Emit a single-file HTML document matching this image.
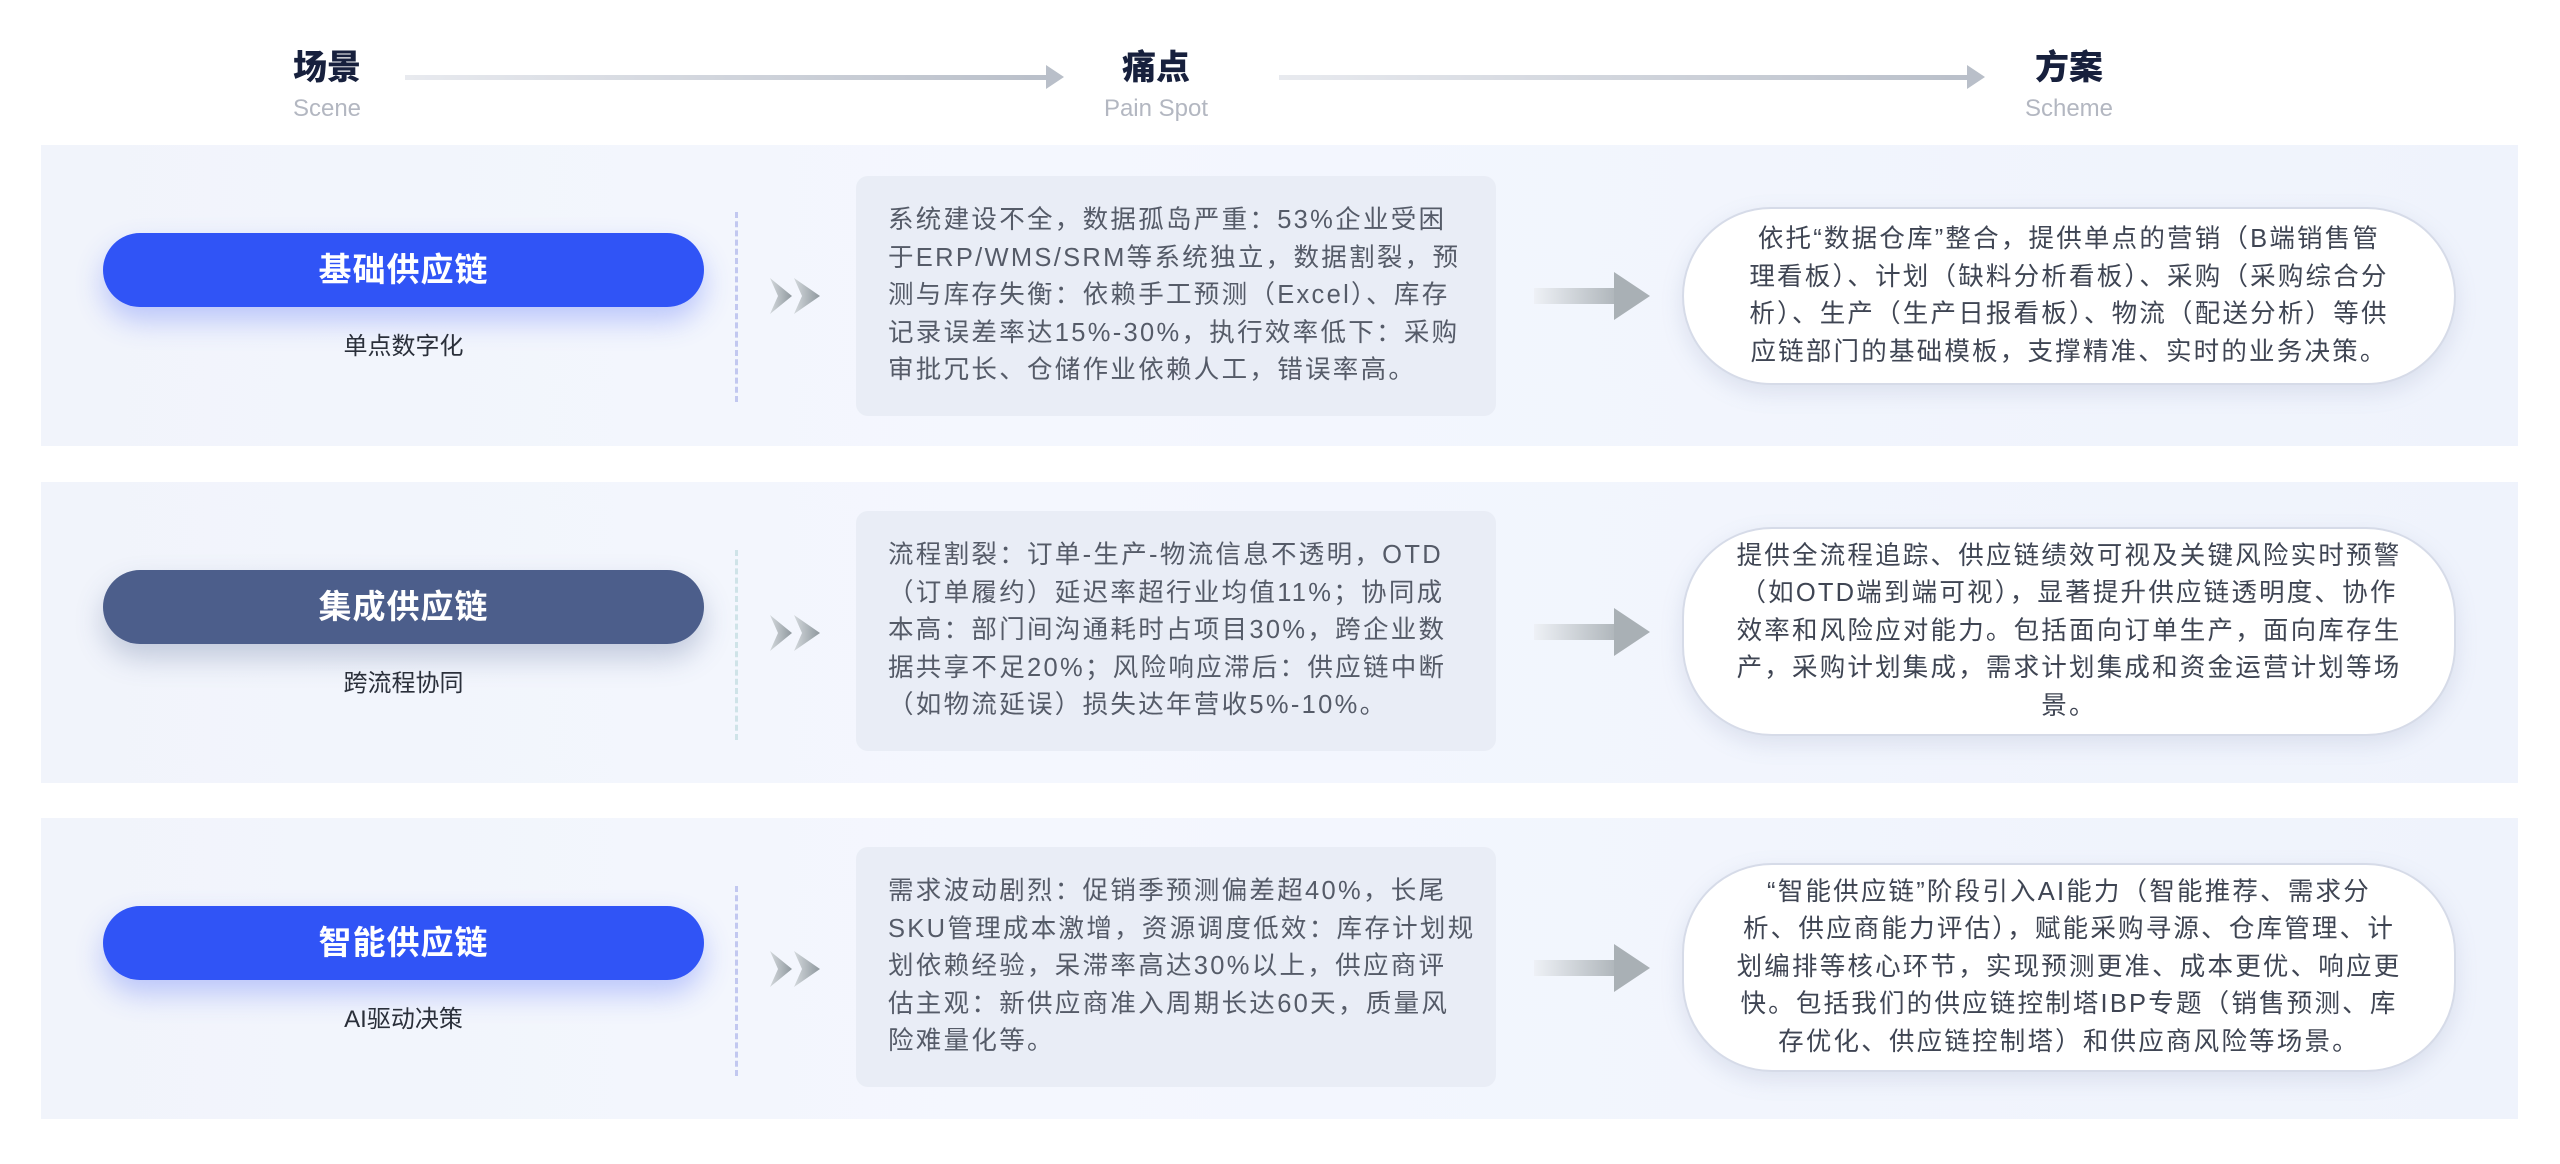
<!DOCTYPE html>
<html><head><meta charset="utf-8"><style>
*{margin:0;padding:0;box-sizing:border-box}
body{width:2560px;height:1164px;background:#fff;position:relative;overflow:hidden;font-family:"Liberation Sans","Noto Sans CJK SC",sans-serif}
.h{position:absolute;text-align:center;width:200px}
.h b{display:block;font-size:34px;font-weight:900;color:#17203d;line-height:40px}
.h span{display:block;font-size:24px;color:#b3b7c1;line-height:34px;margin-top:4px}
.harrow{position:absolute;height:5px;background:linear-gradient(90deg,#e8eaef,#b9bfc9)}
.harrow:after{content:"";position:absolute;right:-16px;top:-10px;border-left:18px solid #b9bfc9;border-top:12px solid transparent;border-bottom:12px solid transparent}
.band{position:absolute;left:41px;width:2477px;height:301px;background:linear-gradient(90deg,#f1f4fb,#f4f7fe 40%,#eff3fc)}
.pill{position:absolute;left:103px;width:601px;height:74px;border-radius:37px;color:#fff;font-size:33px;font-weight:700;text-align:center;line-height:74px;letter-spacing:1px}
.blue{background:#3054f6;box-shadow:0 14px 28px rgba(60,90,250,.3)}
.slate{background:#4c5e8b;box-shadow:0 14px 28px rgba(70,90,140,.28)}
.sub{position:absolute;left:103px;width:601px;text-align:center;font-size:24px;color:#2a2f3a}
.dash{position:absolute;left:735px;width:0;height:190px;border-left:3px dashed #c2c8f0}
.chev{position:absolute;left:770px;width:56px;height:40px}
.pain{position:absolute;left:856px;width:640px;height:240px;background:#e9edf6;border-radius:12px;padding:0 0 0 32px;display:flex;align-items:center;font-size:25.5px;line-height:37.5px;color:#555b68;letter-spacing:2.3px;white-space:nowrap}
.arr{position:absolute;left:1534px;width:116px;height:48px}
.sol{position:absolute;left:1682px;width:774px;background:#fff;border:2px solid #d6dbe8;border-radius:90px;box-shadow:0 8px 22px rgba(120,135,170,.18);display:flex;align-items:center;justify-content:center;text-align:center;font-size:25.5px;line-height:37.5px;color:#3f4553;letter-spacing:2.2px;white-space:nowrap}
</style></head><body>
<div class="h" style="left:227px;top:48px"><b>场景</b><span>Scene</span></div>
<div class="h" style="left:1056px;top:48px"><b>痛点</b><span>Pain Spot</span></div>
<div class="h" style="left:1969px;top:48px"><b>方案</b><span>Scheme</span></div>
<div class="harrow" style="left:405px;top:75px;width:643px"></div>
<div class="harrow" style="left:1279px;top:75px;width:690px"></div>

<svg width="0" height="0" style="position:absolute"><defs>
<linearGradient id="g1" x1="0" x2="1"><stop offset="0" stop-color="#eef1f6"/><stop offset="1" stop-color="#a9b0b5"/></linearGradient>
<linearGradient id="g2" x1="0" x2="1"><stop offset="0" stop-color="#d3d8dc"/><stop offset="1" stop-color="#8f989e"/></linearGradient>
</defs></svg>

<div class="band" style="top:145px"></div>
<div class="pill blue" style="top:233px">基础供应链</div>
<div class="sub" style="top:326px">单点数字化</div>
<div class="dash" style="top:212px"></div>
<svg class="chev" style="top:276px" viewBox="0 0 56 40"><polygon points="0,2 22,20 0,38 8,20" fill="url(#g2)"/><polygon points="24,2 50,20 24,38 32,20" fill="url(#g2)"/></svg>
<div class="pain" style="top:176px">系统建设不全，数据孤岛严重：53%企业受困<br>于ERP/WMS/SRM等系统独立，数据割裂，预<br>测与库存失衡：依赖手工预测（Excel）、库存<br>记录误差率达15%-30%，执行效率低下：采购<br>审批冗长、仓储作业依赖人工，错误率高。</div>
<svg class="arr" style="top:272px" viewBox="0 0 116 48"><rect x="0" y="16" width="90" height="16" fill="url(#g1)"/><polygon points="80,0 116,24 80,48" fill="#a9b0b5"/></svg>
<div class="sol" style="top:207px;height:178px">依托“数据仓库”整合，提供单点的营销（B端销售管<br>理看板）、计划（缺料分析看板）、采购（采购综合分<br>析）、生产（生产日报看板）、物流（配送分析）等供<br>应链部门的基础模板，支撑精准、实时的业务决策。</div>

<div class="band" style="top:482px"></div>
<div class="pill slate" style="top:570px">集成供应链</div>
<div class="sub" style="top:663px">跨流程协同</div>
<div class="dash" style="top:550px;border-left-color:#cfe3e8"></div>
<svg class="chev" style="top:613px" viewBox="0 0 56 40"><polygon points="0,2 22,20 0,38 8,20" fill="url(#g2)"/><polygon points="24,2 50,20 24,38 32,20" fill="url(#g2)"/></svg>
<div class="pain" style="top:511px">流程割裂：订单-生产-物流信息不透明，OTD<br>（订单履约）延迟率超行业均值11%；协同成<br>本高：部门间沟通耗时占项目30%，跨企业数<br>据共享不足20%；风险响应滞后：供应链中断<br>（如物流延误）损失达年营收5%-10%。</div>
<svg class="arr" style="top:608px" viewBox="0 0 116 48"><rect x="0" y="16" width="90" height="16" fill="url(#g1)"/><polygon points="80,0 116,24 80,48" fill="#a9b0b5"/></svg>
<div class="sol" style="top:527px;height:209px">提供全流程追踪、供应链绩效可视及关键风险实时预警<br>（如OTD端到端可视），显著提升供应链透明度、协作<br>效率和风险应对能力。包括面向订单生产，面向库存生<br>产，采购计划集成，需求计划集成和资金运营计划等场<br>景。</div>

<div class="band" style="top:818px"></div>
<div class="pill blue" style="top:906px">智能供应链</div>
<div class="sub" style="top:999px">AI驱动决策</div>
<div class="dash" style="top:886px"></div>
<svg class="chev" style="top:949px" viewBox="0 0 56 40"><polygon points="0,2 22,20 0,38 8,20" fill="url(#g2)"/><polygon points="24,2 50,20 24,38 32,20" fill="url(#g2)"/></svg>
<div class="pain" style="top:847px">需求波动剧烈：促销季预测偏差超40%，长尾<br>SKU管理成本激增，资源调度低效：库存计划规<br>划依赖经验，呆滞率高达30%以上，供应商评<br>估主观：新供应商准入周期长达60天，质量风<br>险难量化等。</div>
<svg class="arr" style="top:944px" viewBox="0 0 116 48"><rect x="0" y="16" width="90" height="16" fill="url(#g1)"/><polygon points="80,0 116,24 80,48" fill="#a9b0b5"/></svg>
<div class="sol" style="top:863px;height:209px">“智能供应链”阶段引入AI能力（智能推荐、需求分<br>析、供应商能力评估），赋能采购寻源、仓库管理、计<br>划编排等核心环节，实现预测更准、成本更优、响应更<br>快。包括我们的供应链控制塔IBP专题（销售预测、库<br>存优化、供应链控制塔）和供应商风险等场景。</div>
</body></html>
